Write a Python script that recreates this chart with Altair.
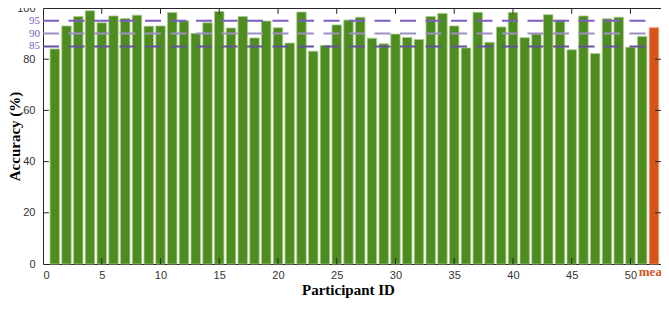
import altair as alt
import pandas as pd

participants = list(range(1, 52))
accuracy = [84.0, 93.0, 96.7, 98.9, 94.2, 96.9, 95.9, 97.2, 92.9, 93.0,
            98.2, 95.0, 90.1, 94.2, 98.6, 92.2, 96.7, 88.3, 94.9, 92.3,
            86.3, 98.4, 83.1, 85.4, 93.4, 95.3, 96.4, 88.2, 86.0, 89.8,
            88.5, 87.7, 96.7, 97.9, 93.0, 84.4, 98.3, 86.6, 92.6, 98.2,
            88.4, 89.8, 97.4, 95.2, 83.7, 96.9, 82.2, 95.8, 96.4, 84.7,
            88.9]
mean_label = ["mean"]
mean_pos = [52]
mean_value = [92.3]
thresholds = [95, 90, 85]
threshold_colors = ["#7d5dc4", "#9d90c6", "#62549c"]
x_ticks = [0, 5, 10, 15, 20, 25, 30, 35, 40, 45, 50]
y_ticks = [0, 20, 40, 60, 80, 100]

GREEN = "#4d8c1f"
ORANGE = "#d95319"
PURPLE = "#7d5dc4"
AX = "#262626"

X_MAX = 52.6
xs = alt.Scale(domain=[0, X_MAX], nice=False, zero=False)
ys = alt.Scale(domain=[0, 100], nice=False)

bars_df = pd.DataFrame({"pid": participants, "acc": accuracy})
mean_df = pd.DataFrame({"pid": mean_pos, "acc": mean_value, "label": mean_label})
thr_df = pd.DataFrame({"y": thresholds, "c": threshold_colors,
                       "xs": [0] * 3, "xe": [mean_pos[0]] * 3})

x_axis = alt.Axis(values=x_ticks, labelPadding=5, grid=False, domain=False, ticks=False,
                  titleX=305, titleY=18, titleBaseline="top", titleAlign="center")
y_axis = alt.Axis(values=y_ticks, labelPadding=8, grid=False, domain=False, ticks=False,
                  titleX=-21, titleY=128, titleAngle=270, titleBaseline="bottom",
                  titleAlign="center")

bars = alt.Chart(bars_df).mark_bar(color=GREEN, stroke="#a9cc8c", strokeWidth=0.8).transform_calculate(
    x0="datum.pid - 0.4", x1="datum.pid + 0.4"
).encode(
    x=alt.X("x0:Q", scale=xs, axis=x_axis, title="Participant ID"),
    x2="x1:Q",
    y=alt.Y("acc:Q", scale=ys, axis=y_axis, title="Accuracy (%)"),
    y2=alt.datum(0),
)

mean_bar = alt.Chart(mean_df).mark_bar(color=ORANGE, stroke="#eb9a78", strokeWidth=0.8).transform_calculate(
    x0="datum.pid - 0.4", x1="datum.pid + 0.4"
).encode(x="x0:Q", x2="x1:Q", y="acc:Q", y2=alt.datum(0))

mean_text = alt.Chart(mean_df).mark_text(
    color=ORANGE, font="Liberation Serif", fontWeight="bold", fontSize=13,
    align="center", baseline="alphabetic", dy=12
).encode(x="pid:Q", y=alt.datum(0), text="label:N")

thr_lines = alt.Chart(thr_df).mark_rule(strokeDash=[16, 9.5], strokeWidth=2).encode(
    x="xs:Q", x2="xe:Q", y="y:Q", color=alt.Color("c:N", scale=None)
)

thr_text = alt.Chart(thr_df).mark_text(
    color=PURPLE, font="Liberation Serif", fontSize=11, align="right", baseline="middle", dx=-3
).encode(x="xs:Q", y="y:Q", text="y:Q")

xt_df = pd.DataFrame({"t": x_ticks[1:]})
yt_df = pd.DataFrame({"t": y_ticks[1:-1]})

bot_ticks = alt.Chart(xt_df).mark_rule(color=AX, strokeWidth=1).encode(
    x="t:Q", y=alt.datum(0), y2=alt.datum(2.3))
top_ticks = alt.Chart(xt_df).mark_rule(color=AX, strokeWidth=1).encode(
    x="t:Q", y=alt.datum(100), y2=alt.datum(97.7))
left_ticks = alt.Chart(yt_df).mark_rule(color=AX, strokeWidth=1).encode(
    y="t:Q", x=alt.datum(0), x2=alt.datum(0.5))
right_ticks = alt.Chart(yt_df).mark_rule(color=AX, strokeWidth=1).encode(
    y="t:Q", x=alt.datum(X_MAX), x2=alt.datum(X_MAX - 0.5))

chart = alt.layer(
    bars, mean_bar, thr_lines, thr_text, mean_text,
    bot_ticks, top_ticks, left_ticks, right_ticks
).properties(
    width=618, height=256,
    autosize=alt.AutoSizeParams(type="none"),
    padding={"left": 35, "top": 0, "right": 0, "bottom": 36},
).configure_view(
    stroke=AX, strokeWidth=1
).configure_axis(
    labelFont="Liberation Sans", labelFontSize=11, labelColor="#333333",
    titleFont="Liberation Serif", titleFontWeight="bold", titleFontSize=15, titleColor="#000000"
)

chart.save("out.html", embed_options={"renderer": "svg", "actions": False})
